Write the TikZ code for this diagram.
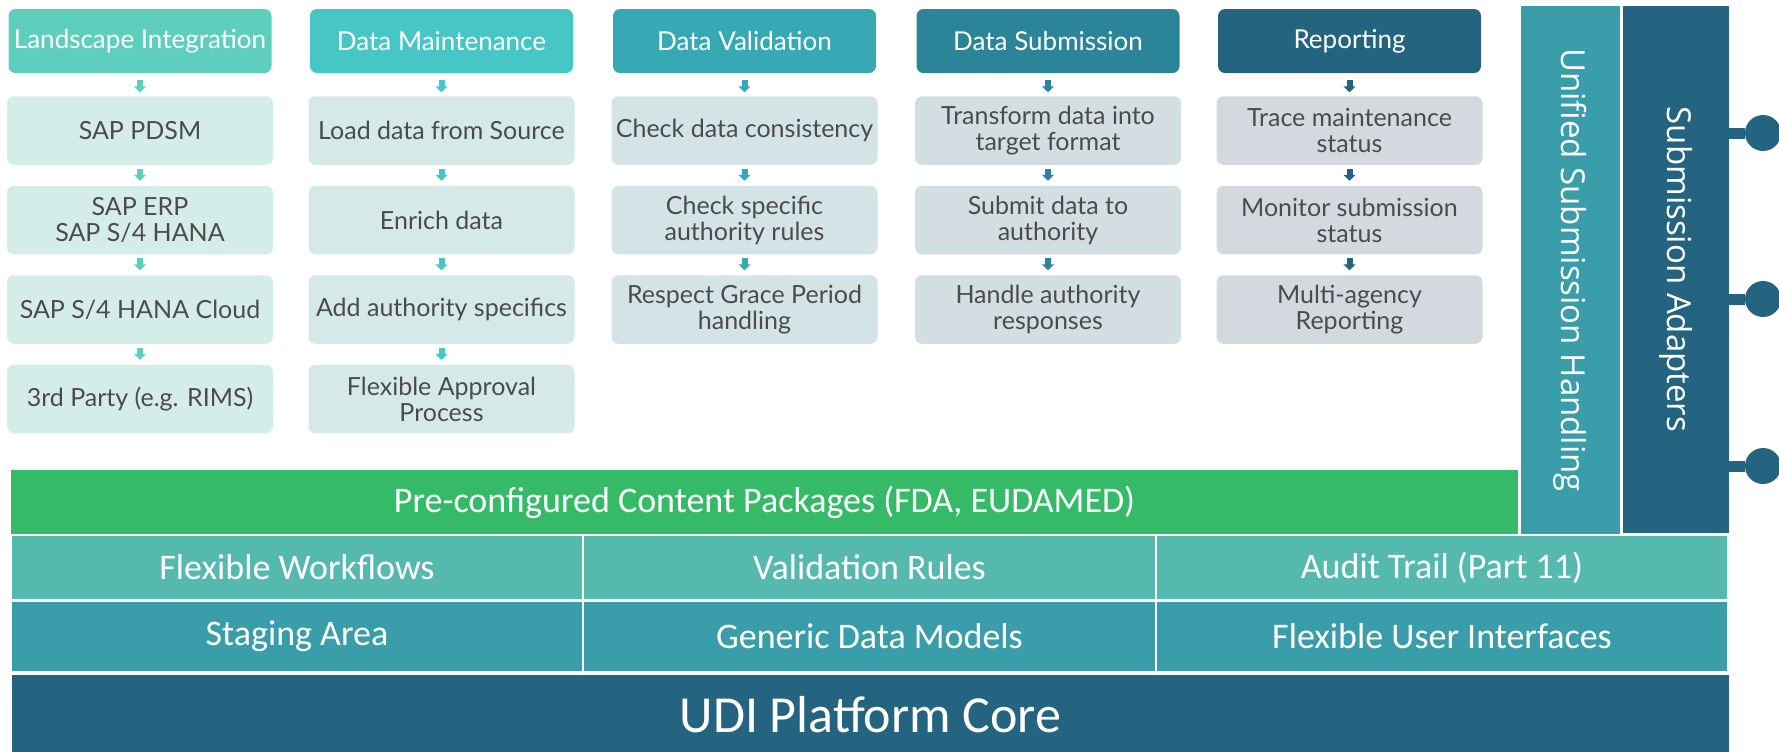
\documentclass[tikz,border=0pt]{standalone}
\usepackage{fontspec}
\setmainfont{Lato}
\newfontfamily\calib{Carlito}
\newfontfamily\osans{Open Sans}
\usetikzlibrary{arrows.meta}
\definecolor{hLI}{HTML}{5FCFBD}
\definecolor{hDM}{HTML}{46C6C4}
\definecolor{hDV}{HTML}{37A9B5}
\definecolor{hDS}{HTML}{2C8499}
\definecolor{hR}{HTML}{24647F}
\definecolor{bLI}{HTML}{D5EDE9}
\definecolor{bDM}{HTML}{D5E9E9}
\definecolor{bDV}{HTML}{D3E3E6}
\definecolor{bDS}{HTML}{D3DEE2}
\definecolor{bR}{HTML}{D3D9DE}
\definecolor{txtgrey}{HTML}{4B4B4B}
\definecolor{pkggreen}{HTML}{35BA67}
\definecolor{flexrow}{HTML}{56B9AD}
\definecolor{stagerow}{HTML}{3A9DAA}
\definecolor{coreblue}{HTML}{246480}
\begin{document}
\begin{tikzpicture}[x=0.5pt,y=-0.5pt,
  hdr/.style={rounded corners=3.5pt, minimum width=131.5pt, minimum height=32pt, inner sep=0pt, outer sep=0pt, text=white, font=\fontsize{13}{14}\selectfont},
  box/.style={rounded corners=3.5pt, minimum width=133pt, minimum height=34.25pt, inner sep=0pt, outer sep=0pt, text=txtgrey, align=center, font=\fontsize{12.5}{13}\selectfont},
  blk/.style={line width=3pt, -{Triangle[width=6pt,length=3pt]}},
  firstarr/.style={blk, shorten <=3.5pt, shorten >=2pt},
  nextarr/.style={blk, shorten <=2pt, shorten >=2.5pt},
  layer/.style={inner sep=0pt, outer sep=0pt, text=white, font=\calib\fontsize{18}{20}\selectfont},
  vbar/.style={rotate=-90, inner sep=0pt, outer sep=0pt, text=white, font=\osans\fontsize{16.5}{18}\selectfont},
  lolli/.style={circle, fill=coreblue, minimum size=18pt, inner sep=0pt, outer sep=0pt},
  stem/.style={coreblue, line width=5.5pt}]
\useasboundingbox (0,0) rectangle (1779,751);
\clip (0,0) rectangle (1779,751);

% ---- Column headers
\node[hdr, fill=hLI] (hli) at (140,41) {Landscape Integration};
\node[hdr, fill=hDM] (hdm) at (441.5,41) {Data Maintenance};
\node[hdr, fill=hDV] (hdv) at (744.5,41) {Data Validation};
\node[hdr, fill=hDS] (hds) at (1048,41) {Data Submission};
\node[hdr, fill=hR] (hr) at (1349.5,41) {Reporting};

% ---- Landscape Integration
\node[box, fill=bLI] (li1) at (140,130.5) {SAP PDSM};
\node[box, fill=bLI] (li2) at (140,220) {SAP ERP\\SAP S/4 HANA};
\node[box, fill=bLI] (li3) at (140,309.5) {SAP S/4 HANA Cloud};
\node[box, fill=bLI] (li4) at (140,399) {3rd Party (e.g. RIMS)};
\draw[firstarr, hLI] (hli) -- (li1);
\draw[nextarr, hLI] (li1) -- (li2);
\draw[nextarr, hLI] (li2) -- (li3);
\draw[nextarr, hLI] (li3) -- (li4);

% ---- Data Maintenance
\node[box, fill=bDM] (dm1) at (441.5,130.5) {Load data from Source};
\node[box, fill=bDM] (dm2) at (441.5,220) {Enrich data};
\node[box, fill=bDM] (dm3) at (441.5,309.5) {Add authority specifics};
\node[box, fill=bDM] (dm4) at (441.5,399) {Flexible Approval\\Process};
\draw[firstarr, hDM] (hdm) -- (dm1);
\draw[nextarr, hDM] (dm1) -- (dm2);
\draw[nextarr, hDM] (dm2) -- (dm3);
\draw[nextarr, hDM] (dm3) -- (dm4);

% ---- Data Validation
\node[box, fill=bDV] (dv1) at (744.5,130.5) {Check data consistency};
\node[box, fill=bDV] (dv2) at (744.5,220) {Check specific\\authority rules};
\node[box, fill=bDV] (dv3) at (744.5,309.5) {Respect Grace Period\\handling};
\draw[firstarr, hDV] (hdv) -- (dv1);
\draw[nextarr, hDV] (dv1) -- (dv2);
\draw[nextarr, hDV] (dv2) -- (dv3);

% ---- Data Submission
\node[box, fill=bDS] (ds1) at (1048,130.5) {Transform data into\\target format};
\node[box, fill=bDS] (ds2) at (1048,220) {Submit data to\\authority};
\node[box, fill=bDS] (ds3) at (1048,309.5) {Handle authority\\responses};
\draw[firstarr, hDS] (hds) -- (ds1);
\draw[nextarr, hDS] (ds1) -- (ds2);
\draw[nextarr, hDS] (ds2) -- (ds3);

% ---- Reporting
\node[box, fill=bR] (r1) at (1349.5,130.5) {Trace maintenance\\status};
\node[box, fill=bR] (r2) at (1349.5,220) {Monitor submission\\status};
\node[box, fill=bR] (r3) at (1349.5,309.5) {Multi-agency\\Reporting};
\draw[firstarr, hR] (hr) -- (r1);
\draw[nextarr, hR] (r1) -- (r2);
\draw[nextarr, hR] (r2) -- (r3);

% ---- Layers
\node[layer, fill=pkggreen, minimum width=753.5pt, minimum height=32pt] (pkg) at (764.5,502) {Pre-configured Content Packages (FDA, EUDAMED)};
\node[layer, fill=flexrow, minimum width=285pt, minimum height=31.5pt] (fw) at (297,567.5) {Flexible Workflows};
\node[layer, fill=flexrow, minimum width=285.5pt, minimum height=31.5pt] (vr) at (869.5,567.5) {Validation Rules};
\node[layer, fill=flexrow, minimum width=285pt, minimum height=31.5pt] (at) at (1442,567.5) {Audit Trail (Part 11)};
\node[layer, fill=stagerow, minimum width=285pt, minimum height=34.5pt] (sa) at (297,636.5) {Staging Area};
\node[layer, fill=stagerow, minimum width=285.5pt, minimum height=34.5pt] (gd) at (869.5,636.5) {Generic Data Models};
\node[layer, fill=stagerow, minimum width=285pt, minimum height=34.5pt] (ui) at (1442,636.5) {Flexible User Interfaces};
\node[layer, fill=coreblue, minimum width=858.5pt, minimum height=40pt, font=\calib\fontsize{26}{28}\selectfont] (core) at (870.5,715) {UDI Platform Core};

% ---- Vertical bars
\node[vbar, fill=stagerow, minimum width=264pt, minimum height=49.5pt] (ush) at (1570.5,270) {Unified Submission Handling};
\node[vbar, fill=coreblue, minimum width=263.5pt, minimum height=53pt] (adp) at (1676,269.5) {Submission Adapters};

% ---- Lollipop connectors
\node[lolli] (l1) at (1763,133) {};
\node[lolli] (l2) at (1763,299) {};
\node[lolli] (l3) at (1763,466) {};
\draw[stem] (adp.north |- l1) -- (l1);
\draw[stem] (adp.north |- l2) -- (l2);
\draw[stem] (adp.north |- l3) -- (l3);
\end{tikzpicture}
\end{document}
